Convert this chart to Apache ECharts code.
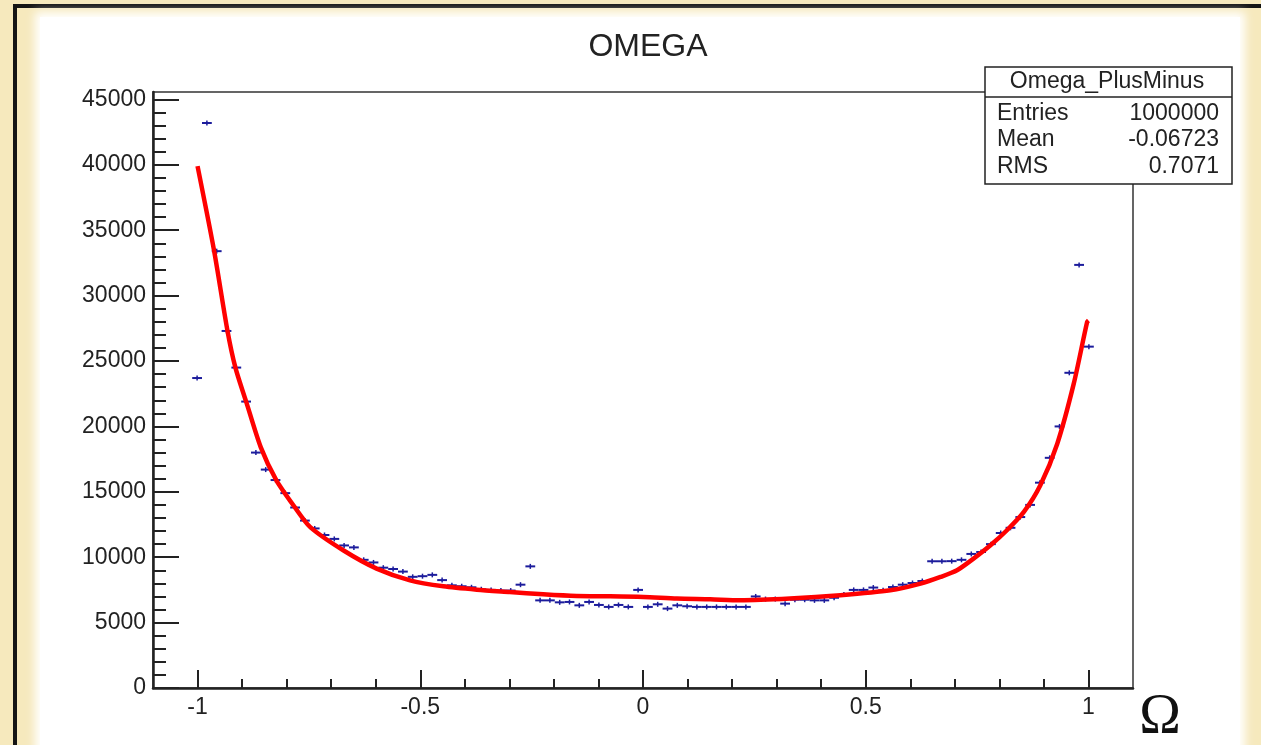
<!DOCTYPE html>
<html>
<head>
<meta charset="utf-8">
<title>OMEGA</title>
<script src="https://cdn.jsdelivr.net/npm/echarts@6/dist/echarts.min.js"></script>
<style>
    html, body { margin: 0; padding: 0; }
    body { width: 1261px; height: 745px; background: #f6e9bd; position: relative; overflow: hidden; }
    #frame { position: absolute; left: 13px; top: 4px; right: 0; bottom: 0; border-top: 4px solid #151515; border-left: 4px solid #151515; }
    #panel { position: absolute; left: 40px; top: 17px; width: 1200px; height: 740px; background: #fff; box-shadow: 0 0 9px 5px #fff; }
    #chart { position: absolute; left: 0; top: 0; width: 1261px; height: 745px; }
</style>
</head>
<body>
<div id="frame"></div>
<div id="panel"></div>
<div id="chart"></div>
<script>
// Histogram binning (100 bins on [-1.1, 1.1]; only the filled ones are listed)
const binLow = -1.012;
const binWidth = 0.022;

// Bin contents, left to right
const counts = [
    23700, 43200, 33400, 27300, 24500, 21900, 18000, 16700, 15900, 14900,
    13800, 12800, 12200, 11700, 11400, 10900, 10750, 9800, 9600, 9200,
    9100, 8900, 8500, 8550, 8650, 8250, 7850, 7780, 7700, 7550,
    7500, 7450, 7450, 7900, 9300, 6700, 6700, 6550, 6580, 6320,
    6580, 6350, 6200, 6350, 6200, 7500, 6200, 6400, 6070, 6320,
    6250, 6200, 6200, 6200, 6200, 6200, 6200, 7000, 6800, 6800,
    6450, 6750, 6750, 6700, 6700, 6900, 7140, 7500, 7500, 7680,
    7470, 7720, 7900, 8030, 8180, 9690, 9690, 9700, 9800, 10250,
    10400, 11000, 11850, 12250, 13070, 14000, 15700, 17600, 20000, 24100,
    32350, 26100
];

// Fit curve, sampled from the red line
const fitX = [-1.0, -0.963, -0.933, -0.915, -0.890, -0.858, -0.823, -0.781, -0.747, -0.673,
    -0.598, -0.523, -0.448, -0.373, -0.299, -0.224, -0.149, -0.074, 0.001, 0.076,
    0.151, 0.218, 0.330, 0.443, 0.555, 0.623, 0.668, 0.705, 0.742, 0.780,
    0.817, 0.855, 0.892, 0.930, 0.967, 0.997, 1.0];
const fitY = [39900, 33460, 27350, 24500, 21800, 18400, 15880, 13790, 12300, 10530,
    9130, 8234, 7775, 7520, 7340, 7160, 7030, 7010, 6960, 6835,
    6780, 6705, 6835, 7090, 7470, 7980, 8490, 9000, 9890, 10910,
    12060, 13460, 15500, 18680, 23270, 27980, 28100];

// Axis ticks
const xMajor = [-1, -0.5, 0, 0.5, 1];
const xMinor = [-0.9, -0.8, -0.7, -0.6, -0.4, -0.3, -0.2, -0.1, 0.1, 0.2, 0.3, 0.4, 0.6, 0.7, 0.8, 0.9];
const yMajor = [0, 5000, 10000, 15000, 20000, 25000, 30000, 35000, 40000, 45000];
const yMinor = [];
for (let v = 1000; v < 45000; v += 1000) {
    if (v % 5000 !== 0) yMinor.push(v);
}

// Stats box
const statsTitle = 'Omega_PlusMinus';
const statsNames = ['Entries', 'Mean', 'RMS'];
const statsValues = ['1000000', '-0.06723', '0.7071'];

const histData = counts.map((v, i) => [binLow + binWidth * (i + 0.5), v]);
const fitData = fitX.map((x, i) => [x, fitY[i]]);

const font = "'Liberation Sans', Arial, Helvetica, sans-serif";
const ink = '#222';
const blue = '#1c1c9c';

function renderBin(params, api) {
    const x = api.value(0);
    const y = api.value(1);
    const left = api.coord([x - binWidth / 2, y]);
    const right = api.coord([x + binWidth / 2, y]);
    const mid = api.coord([x, y]);
    return {
        type: 'group',
        children: [
            { type: 'line', shape: { x1: left[0], y1: left[1], x2: right[0], y2: right[1] }, style: { stroke: blue, lineWidth: 2 } },
            { type: 'line', shape: { x1: mid[0], y1: mid[1] - 2.5, x2: mid[0], y2: mid[1] + 2.5 }, style: { stroke: blue, lineWidth: 1.5 } }
        ]
    };
}

const statsText = [];
statsNames.forEach((name, i) => {
    const y = 112 + i * 26.5;
    statsText.push({ type: 'text', left: 997, top: y - 10, z: 101, style: { text: name, font: '23px ' + font, fill: ink } });
    statsText.push({ type: 'text', right: 1261 - 1219, top: y - 10, z: 101, style: { text: statsValues[i], font: '23px ' + font, fill: ink, align: 'right' } });
});

const chart = echarts.init(document.getElementById('chart'), null, { renderer: 'canvas' });
chart.setOption({
    backgroundColor: 'transparent',
    animation: false,
    title: {
        text: 'OMEGA',
        left: 643,
        top: 26,
        textAlign: 'center',
        textStyle: { fontFamily: font, fontSize: 32, fontWeight: 'normal', color: ink }
    },
    grid: {
        left: 153, top: 92, width: 980, height: 596,
        show: true, borderColor: '#333', borderWidth: 1.5,
        outerBoundsMode: 'none'
    },
    xAxis: [{
        type: 'value', min: -1.1, max: 1.1, position: 'bottom',
        axisLine: { onZero: false, lineStyle: { color: ink, width: 2.5 } },
        axisTick: { inside: true, length: 18, customValues: xMajor, lineStyle: { color: ink, width: 2 } },
        axisLabel: { customValues: xMajor, fontFamily: font, fontSize: 23, color: ink, margin: 8 },
        splitLine: { show: false }
    }, {
        type: 'value', min: -1.1, max: 1.1, position: 'bottom',
        axisLine: { show: false, onZero: false },
        axisTick: { inside: true, length: 9, customValues: xMinor, lineStyle: { color: ink, width: 2 } },
        axisLabel: { show: false },
        splitLine: { show: false }
    }],
    yAxis: [{
        type: 'value', min: 0, max: 45570, position: 'left',
        axisLine: { show: true, onZero: false, lineStyle: { color: ink, width: 2.5 } },
        axisTick: { show: true, inside: true, length: 26, customValues: yMajor, lineStyle: { color: ink, width: 2 } },
        axisLabel: { customValues: yMajor, formatter: v => String(v), fontFamily: font, fontSize: 23, color: ink, margin: 7 },
        splitLine: { show: false }
    }, {
        type: 'value', min: 0, max: 45570, position: 'left',
        axisLine: { show: false, onZero: false },
        axisTick: { show: true, inside: true, length: 13, customValues: yMinor, lineStyle: { color: ink, width: 2 } },
        axisLabel: { show: false },
        splitLine: { show: false }
    }],
    series: [{
        name: 'Omega_PlusMinus',
        type: 'custom',
        renderItem: renderBin,
        encode: { x: 0, y: 1 },
        data: histData,
        z: 2
    }, {
        name: 'fit',
        type: 'line',
        data: fitData,
        showSymbol: false,
        smooth: 0.25,
        lineStyle: { color: '#ff0000', width: 4.5, join: 'round' },
        z: 3
    }],
    graphic: [
        { type: 'rect', z: 100, shape: { x: 985, y: 67, width: 247, height: 117 }, style: { fill: '#fff', stroke: ink, lineWidth: 1.5 } },
        { type: 'line', z: 101, shape: { x1: 985, y1: 97, x2: 1232, y2: 97 }, style: { stroke: ink, lineWidth: 1.5 } },
        { type: 'text', z: 101, x: 1107, y: 82, style: { text: statsTitle, font: '23px ' + font, fill: ink, align: 'center', verticalAlign: 'middle' } },
        ...statsText,
        { type: 'text', z: 101, x: 1160, y: 718, style: { text: 'Ω', font: "56px 'Liberation Serif', 'DejaVu Serif', serif", fill: '#111', align: 'center', verticalAlign: 'middle' } }
    ]
});
</script>
</body>
</html>
